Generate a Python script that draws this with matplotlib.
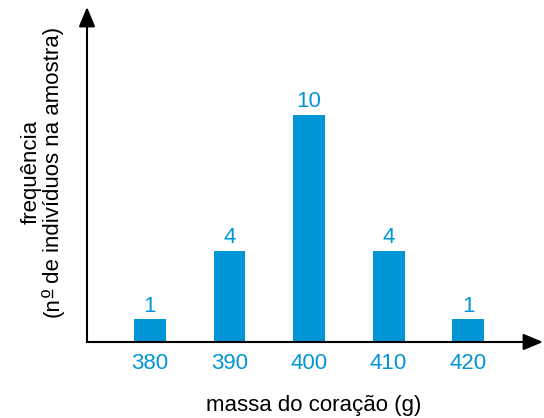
import matplotlib
matplotlib.use("Agg")
import matplotlib.pyplot as plt
from matplotlib.transforms import IdentityTransform
from matplotlib.lines import Line2D

# mass of the heart (g) and how many individuals fell in each class
massas      = [380, 390, 400, 410, 420]
frequencias = [1, 4, 10, 4, 1]

AZUL = "#0096d8"
W, H = 544, 418
FS = 16

plt.rcParams["font.family"] = ["Liberation Sans", "DejaVu Sans"]

fig = plt.figure(figsize=(W / 100, H / 100), dpi=100)

# axes box in pixel coords: y axis at x=87, x axis at y=342, arrow tips at 543 / 7
left, right, top, bottom = 87, 543, 7, 342
ax = fig.add_axes([left / W, (H - bottom) / H, (right - left) / W, (bottom - top) / H])

bars = ax.bar(massas, frequencias, width=4.0, color=AZUL, zorder=2)
for bar, f in zip(bars, frequencias):
    ax.annotate(str(f), (bar.get_x() + bar.get_width() / 2, bar.get_height()),
                xytext=(0, 2), textcoords="offset points",
                ha="center", va="bottom", color=AZUL, fontsize=FS)

ax.set_xlim(372.1, 429.4)
ax.set_ylim(0, 14.76)

for s in ax.spines.values():
    s.set_visible(False)
ax.set_yticks([])
ax.set_xticks(massas)
ax.set_xticklabels([str(m) for m in massas], color=AZUL, fontsize=FS)
ax.tick_params(axis="x", length=0, pad=8)

# axis lines with arrow heads
arrow = dict(arrowstyle="-|>,head_length=0.6,head_width=0.25", lw=1.5,
             color="black", mutation_scale=20, shrinkA=0, shrinkB=0)
ax.annotate("", xy=(1, 0), xytext=(0, 0), xycoords="axes fraction", arrowprops=arrow)
ax.annotate("", xy=(0, 1), xytext=(0, 0), xycoords="axes fraction", arrowprops=arrow)

fig.text(314 / W, 1 - 405 / H, "massa do coração (g)", ha="center", va="center",
         fontsize=FS, color="black")

# y label, built by hand so the ordinal sign can get its underline
renderer = fig.canvas.get_renderer()
em = FS * 100 / 72
pix = IdentityTransform()
cy = H - 172            # vertical centre of the label (display px, from bottom)
xb1, xb2 = 37, 59       # baselines of the two rotated lines

fig.text(xb1, cy, "frequência", transform=pix, rotation=90, rotation_mode="anchor",
         ha="center", va="baseline", fontsize=FS)

pieces = ["(n", "\u00ba", " de indivíduos na amostra)"]
widths = []
for p in pieces:
    t = fig.text(0, 0, p, fontsize=FS)
    widths.append(t.get_window_extent(renderer).width)
    t.remove()

y = cy - sum(widths) / 2
starts = []
for p, w in zip(pieces, widths):
    starts.append(y)
    fig.text(xb2, y, p, transform=pix, rotation=90, rotation_mode="anchor",
             ha="left", va="baseline", fontsize=FS)
    y += w

ux = xb2 - 0.30 * em
fig.add_artist(Line2D([ux, ux], [starts[1] + 0.5, starts[1] + widths[1] - 1.0],
                      transform=pix, color="black", lw=1.0))

fig.savefig("out.png", dpi=100)
